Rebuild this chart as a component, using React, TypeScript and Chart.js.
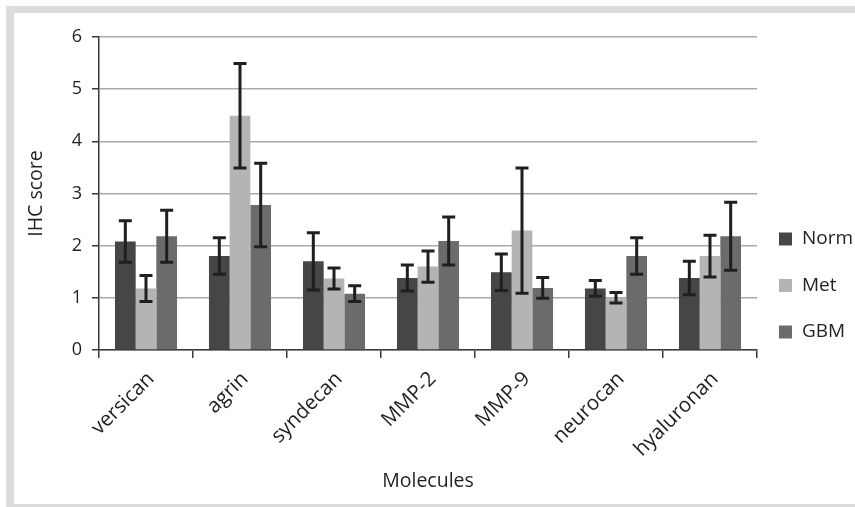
import React, { useEffect, useRef } from "react";
import { Chart, registerables } from "chart.js";

Chart.register(...registerables);

const categories = ["versican", "agrin", "syndecan", "MMP-2", "MMP-9", "neurocan", "hyaluronan"];
const seriesNames = ["Norm", "Met", "GBM"];
const normValues = [2.08, 1.8, 1.7, 1.38, 1.49, 1.18, 1.38];
const normErrors = [0.4, 0.35, 0.55, 0.25, 0.35, 0.15, 0.32];
const metValues = [1.18, 4.49, 1.37, 1.6, 2.29, 1.0, 1.8];
const metErrors = [0.25, 1.0, 0.2, 0.3, 1.2, 0.1, 0.4];
const gbmValues = [2.18, 2.78, 1.08, 2.09, 1.19, 1.8, 2.18];
const gbmErrors = [0.5, 0.8, 0.15, 0.46, 0.2, 0.35, 0.65];
const yTicks = [0, 1, 2, 3, 4, 5, 6];

const seriesColors = ["#464646", "#b4b4b4", "#6b6b6b"];
const FONT = "'Open Sans', 'Noto Sans', sans-serif";
const TEXT = "#231f20";
const AXIS = "#3a3a3a";

const errorBarPlugin = {
  id: "errorBars",
  afterDatasetsDraw(chart: any) {
    const { ctx } = chart;
    const y = chart.scales.y;
    chart.data.datasets.forEach((ds: any, i: number) => {
      const meta = chart.getDatasetMeta(i);
      meta.data.forEach((bar: any, j: number) => {
        const v = ds.data[j];
        const e = ds.errors[j];
        const top = y.getPixelForValue(v + e);
        const bot = y.getPixelForValue(v - e);
        ctx.save();
        ctx.strokeStyle = "#1f1f1f";
        ctx.lineWidth = 3;
        ctx.beginPath();
        ctx.moveTo(bar.x, top);
        ctx.lineTo(bar.x, bot);
        ctx.moveTo(bar.x - 6.5, top);
        ctx.lineTo(bar.x + 6.5, top);
        ctx.moveTo(bar.x - 6.5, bot);
        ctx.lineTo(bar.x + 6.5, bot);
        ctx.stroke();
        ctx.restore();
      });
    });
  },
};

const legendPlugin = {
  id: "sideLegend",
  afterDraw(chart: any) {
    const { ctx, chartArea } = chart;
    const x0 = chartArea.right + 22;
    const yStart = chartArea.top + 202;
    chart.data.datasets.forEach((ds: any, i: number) => {
      const cy = yStart + i * 46.5;
      ctx.save();
      ctx.fillStyle = ds.backgroundColor;
      ctx.fillRect(x0, cy - 6.5, 13, 13);
      ctx.fillStyle = TEXT;
      ctx.font = `19px ${FONT}`;
      ctx.textBaseline = "middle";
      ctx.textAlign = "left";
      ctx.fillText(ds.label, x0 + 23, cy);
      ctx.restore();
    });
  },
};

export default function App() {
  const canvasRef = useRef<HTMLCanvasElement | null>(null);

  useEffect(() => {
    if (!canvasRef.current) return;
    const font = { family: FONT, size: 18 };
    const titleFont = { family: FONT, size: 19.5 };
    const xFont = { family: FONT, size: 20.5 };
    const chart = new Chart(canvasRef.current, {
      type: "bar",
      data: {
        labels: categories,
        datasets: [
          { label: seriesNames[0], data: normValues, errors: normErrors, backgroundColor: seriesColors[0] },
          { label: seriesNames[1], data: metValues, errors: metErrors, backgroundColor: seriesColors[1] },
          { label: seriesNames[2], data: gbmValues, errors: gbmErrors, backgroundColor: seriesColors[2] },
        ].map((d: any) => ({ ...d, borderWidth: 0, categoryPercentage: 0.66, barPercentage: 1 })),
      },
      options: {
        animation: false,
        responsive: false,
        devicePixelRatio: 1,
        layout: { padding: { left: 14, right: 98, top: 37, bottom: 0 } },
        plugins: { legend: { display: false }, tooltip: { enabled: false } },
        scales: {
          x: {
            grid: {
              display: true,
              drawOnChartArea: false,
              drawTicks: true,
              tickLength: 8,
              color: AXIS,
              lineWidth: 1.5,
              offset: true,
            },
            border: { display: true, color: AXIS, width: 1.5 },
            ticks: {
              color: TEXT,
              font: xFont,
              minRotation: 45,
              maxRotation: 45,
              padding: 9,
              labelOffset: 5,
              autoSkip: false,
            },
            title: {
              display: true,
              text: "Molecules",
              color: TEXT,
              font: titleFont,
              padding: { top: 0, bottom: 14 },
            },
            afterFit: (s: any) => {
              s.height = 157;
            },
          },
          y: {
            min: 0,
            max: 6,
            afterBuildTicks: (s: any) => {
              s.ticks = yTicks.map((v) => ({ value: v }));
            },
            ticks: { color: TEXT, font, padding: 10 },
            grid: { color: "#a9a9a9", lineWidth: 1.5, tickLength: 7, tickColor: AXIS },
            border: { display: true, color: AXIS, width: 1.5 },
            title: {
              display: true,
              text: "IHC score",
              color: TEXT,
              font: titleFont,
              padding: { top: 11, bottom: 0 },
            },
            afterFit: (s: any) => {
              s.width = 85;
            },
          },
        },
      } as any,
      plugins: [errorBarPlugin, legendPlugin],
    });
    return () => chart.destroy();
  }, []);

  const band = "#dcdcdc";
  return (
    <div style={{ position: "fixed", left: 0, top: 0, width: 855, height: 507, background: "#ffffff", overflow: "hidden" }}>
      <div style={{ position: "absolute", left: 6, top: 6, width: 8, height: 501, background: band }} />
      <div style={{ position: "absolute", left: 6, top: 6, width: 849, height: 7, background: band }} />
      <div style={{ position: "absolute", left: 6, top: 504, width: 849, height: 3, background: band }} />
      <canvas ref={canvasRef} width={855} height={507} style={{ position: "absolute", left: 0, top: 0 }} />
    </div>
  );
}
